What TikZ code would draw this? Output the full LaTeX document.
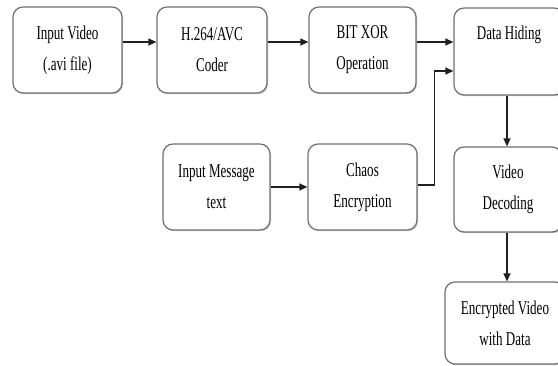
\documentclass[tikz,border=0pt]{standalone}
\usepackage{fontspec}
\setmainfont{Liberation Serif}[FakeStretch=0.67]
\usetikzlibrary{arrows.meta,shadows}
\definecolor{boxline}{HTML}{707070}
\definecolor{wire}{HTML}{202020}
\tikzset{
  stage/.style={draw=boxline, line width=1.2pt, rounded corners=10pt, fill=white,
    drop shadow={shadow xshift=1pt, shadow yshift=-1.2pt, opacity=0.45},
    align=center, inner sep=0pt,
    font=\fontsize{19.5}{31}\selectfont},
  flow/.style={draw=wire, line width=1.3pt, -{Triangle[length=8pt,width=7pt]}}
}
\begin{document}
\begin{tikzpicture}[x=1pt,y=-1pt]
\useasboundingbox (0,0) rectangle (558,365);
% upper row
\node[stage, minimum width=109pt, minimum height=86pt] (invid) at (67.5,50) {Input Video\\(.avi file)};
\node[stage, minimum width=110pt, minimum height=86pt] (coder) at (212,50) {H.264/AVC\\Coder};
\node[stage, minimum width=107pt, minimum height=86pt] (xor) at (362.5,50) {BIT XOR\\Operation};
\node[stage, minimum width=110pt, minimum height=87pt,
  label={[anchor=north, yshift=-15pt, font=\fontsize{19.5}{31}\selectfont]north:Data Hiding}] (hide) at (509,51.5) {};
% lower row
\node[stage, minimum width=107pt, minimum height=86pt] (msg) at (216.5,187) {Input Message\\text};
\node[stage, minimum width=109pt, minimum height=86pt] (chaos) at (362.5,187) {Chaos\\Encryption};
% right column
\node[stage, minimum width=108pt, minimum height=85pt] (dec) at (508,189.5) {Video\\Decoding};
\node[stage, minimum width=120pt, minimum height=82pt] (out) at (505,323) {Encrypted Video\\with Data};
% connectors
\draw[flow] ([yshift=8pt]invid.east) -- ([yshift=8pt]coder.west);
\draw[flow] ([yshift=8pt]coder.east) -- ([yshift=8pt]xor.west);
\draw[flow] ([yshift=8pt]xor.east) -- ([yshift=9.5pt]hide.west);
\draw[flow] (msg.east) -- (chaos.west);
\draw[flow] ([yshift=2pt]chaos.east) -- ++(17,0) |- ([yshift=-19.5pt]hide.west);
\draw[flow] ([xshift=-1pt]dec.north |- hide.south) -- ([xshift=-1pt]dec.north);
\draw[flow] ([xshift=-1pt]dec.south) -- ([xshift=-1pt]dec.south |- out.north);
\end{tikzpicture}
\end{document}
